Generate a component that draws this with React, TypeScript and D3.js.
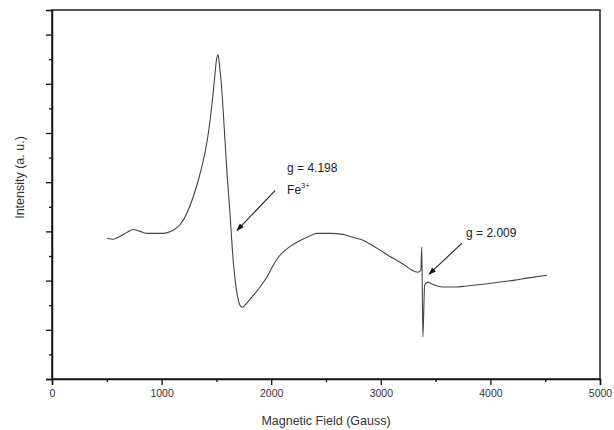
import React, { useEffect, useRef } from 'react'
import * as d3 from 'd3'

// EPR spectrum
const field = [
  502, 557, 620, 684, 739, 803, 876, 940, 1013, 1060, 1110, 1168, 1213, 1259, 1300, 1340, 1378, 1414, 1442,
  1469, 1487, 1503, 1515, 1527, 1545, 1560, 1597, 1624, 1651, 1688, 1715, 1734, 1760, 1807, 1852, 1898, 1962,
  2016, 2060, 2108, 2170, 2235, 2327, 2418, 2537, 2655, 2746, 2838, 2920, 2993, 3084, 3148, 3221, 3285, 3339,
  3365, 3374, 3384, 3400, 3431, 3467, 3568, 3677, 3786, 3951, 4088, 4224, 4334, 4516,
]
const intensity = [
  2.86, 2.84, 2.9, 2.98, 3.04, 3.0, 2.96, 2.96, 2.96, 2.98, 3.03, 3.14, 3.29, 3.52, 3.78, 4.08, 4.42, 4.82, 5.25,
  5.78, 6.2, 6.52, 6.59, 6.4, 6.0, 5.52, 4.18, 3.37, 2.47, 1.74, 1.5, 1.46, 1.5, 1.62, 1.74, 1.87, 2.08,
  2.3, 2.46, 2.58, 2.69, 2.78, 2.88, 2.96, 2.96, 2.94, 2.88, 2.82, 2.72, 2.62, 2.49, 2.41, 2.31, 2.21, 2.17,
  2.21, 2.68, 0.85, 1.91, 1.97, 1.93, 1.87, 1.87, 1.89, 1.93, 1.97, 2.01, 2.05, 2.11,
]
const xTicks = [0, 1000, 2000, 3000, 4000, 5000]

// annotations: label, text position (field, intensity), arrow start, arrow tip
const notes = [
  { text: 'g = 4.198', sub: 'Fe', sup: '3+', at: [2145, 4.2], from: [2035, 3.83], to: [1688, 3.02] },
  { text: 'g = 2.009', sub: '', sup: '', at: [3778, 2.88], from: [3741, 2.76], to: [3440, 2.13] },
]

const W = 614
const H = 430
const margin = { top: 10, right: 14, bottom: 51, left: 52 }

const App = () => {
  const ref = useRef<SVGSVGElement>(null)

  useEffect(() => {
    const svg = d3.select(ref.current)
    svg.selectAll('*').remove()
    const font = '"Liberation Sans", Arial, sans-serif'

    const x = d3.scaleLinear().domain([0, 5000]).range([margin.left, W - margin.right])
    const y = d3.scaleLinear().domain([0, 7.5]).range([H - margin.bottom, margin.top])

    svg.append('rect').attr('width', W).attr('height', H).attr('fill', '#fff')

    // frame
    svg
      .append('rect')
      .attr('x', x(0))
      .attr('y', y(7.5))
      .attr('width', x(5000) - x(0))
      .attr('height', y(0) - y(7.5))
      .attr('fill', 'none')
      .attr('stroke', '#222')
      .attr('stroke-width', 1.5)

    const xAxis = svg
      .append('g')
      .attr('transform', `translate(0,${y(0)})`)
      .call(d3.axisBottom(x).tickValues(xTicks).tickFormat(d3.format('d')).tickSize(6).tickPadding(5))
    xAxis.select('.domain').attr('stroke', '#111').attr('stroke-width', 1.5)
    xAxis.selectAll('line').attr('stroke', '#111').attr('stroke-width', 1.3)
    xAxis.selectAll('text').attr('font-family', font).attr('font-size', 10.5).attr('fill', '#333')
    svg
      .append('g')
      .attr('transform', `translate(0,${y(0)})`)
      .call(d3.axisBottom(x).tickValues(d3.range(500, 5000, 1000)).tickFormat(() => '').tickSize(3))
      .call((g) => g.select('.domain').remove())
      .selectAll('line')
      .attr('stroke', '#111')
      .attr('stroke-width', 1.3)

    const yAxis = svg
      .append('g')
      .attr('transform', `translate(${x(0)},0)`)
      .call(d3.axisLeft(y).tickValues(d3.range(0, 8, 1)).tickFormat(() => '').tickSize(6))
    yAxis.select('.domain').attr('stroke', '#111').attr('stroke-width', 1.5)
    yAxis.selectAll('line').attr('stroke', '#111').attr('stroke-width', 1.3)
    svg
      .append('g')
      .attr('transform', `translate(${x(0)},0)`)
      .call(d3.axisLeft(y).tickValues(d3.range(0.5, 7.5, 1)).tickFormat(() => '').tickSize(3))
      .call((g) => g.select('.domain').remove())
      .selectAll('line')
      .attr('stroke', '#111')
      .attr('stroke-width', 1.3)

    // axis titles
    svg
      .append('text')
      .attr('x', (x(0) + x(5000)) / 2)
      .attr('y', 425)
      .attr('text-anchor', 'middle')
      .attr('font-family', font)
      .attr('font-size', 12.5)
      .attr('fill', '#333')
      .text('Magnetic Field (Gauss)')
    svg
      .append('text')
      .attr('transform', `translate(24,${(y(0) + y(7.5)) / 2 - 17}) rotate(-90)`)
      .attr('text-anchor', 'middle')
      .attr('font-family', font)
      .attr('font-size', 12.5)
      .attr('fill', '#333')
      .text('Intensity (a. u.)')

    // spectrum
    const pts = field.map((f, i) => [f, intensity[i]] as [number, number])
    const line = d3
      .line<[number, number]>()
      .x((d) => x(d[0]))
      .y((d) => y(d[1]))
      .curve(d3.curveMonotoneX)
    svg
      .append('path')
      .datum(pts)
      .attr('d', line)
      .attr('fill', 'none')
      .attr('stroke', '#444')
      .attr('stroke-width', 1.1)

    // arrows + labels
    svg
      .append('defs')
      .append('marker')
      .attr('id', 'arr')
      .attr('viewBox', '0 0 10 10')
      .attr('refX', 9)
      .attr('refY', 5)
      .attr('markerWidth', 7)
      .attr('markerHeight', 7)
      .attr('orient', 'auto')
      .append('path')
      .attr('d', 'M0,1.5 L10,5 L0,8.5 Z')
      .attr('fill', '#111')

    notes.forEach((n) => {
      svg
        .append('line')
        .attr('x1', x(n.from[0]))
        .attr('y1', y(n.from[1]))
        .attr('x2', x(n.to[0]))
        .attr('y2', y(n.to[1]))
        .attr('stroke', '#222')
        .attr('stroke-width', 1.1)
        .attr('marker-end', 'url(#arr)')
      const t = svg
        .append('text')
        .attr('x', x(n.at[0]))
        .attr('y', y(n.at[1]))
        .attr('font-family', font)
        .attr('font-size', 12)
        .attr('fill', '#222')
      t.append('tspan').text(n.text)
      if (n.sub) {
        t.append('tspan').attr('x', x(n.at[0])).attr('dy', 22).text(n.sub)
        t.append('tspan').attr('font-size', 7.5).attr('dy', -6).text(n.sup)
      }
    })
  }, [])

  return (
    <svg
      ref={ref}
      width={W}
      height={H}
      style={{ position: 'absolute', left: 0, top: 0, display: 'block' }}
    />
  )
}

export default App
